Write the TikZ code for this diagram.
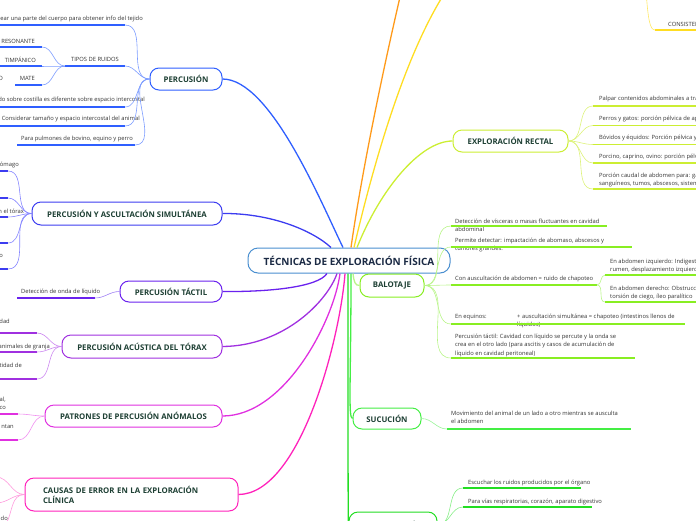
\documentclass[tikz,border=0pt]{standalone}
\usepackage{fontspec}
\setmainfont{Open Sans}
\definecolor{headtxt}{HTML}{1D3F33}
\definecolor{roottxt}{HTML}{1B2A44}
\definecolor{leaftxt}{HTML}{333333}
\definecolor{cRoot}{HTML}{4A8FD0}
\definecolor{cPerc}{HTML}{2F5FFF}
\definecolor{cPercL}{HTML}{7C9CFF}
\definecolor{cPas}{HTML}{3C3CF0}
\definecolor{cPasL}{HTML}{8484FF}
\definecolor{cTac}{HTML}{6A22EE}
\definecolor{cTacL}{HTML}{A080F4}
\definecolor{cAcu}{HTML}{A030E0}
\definecolor{cAcuL}{HTML}{CC88F0}
\definecolor{cPat}{HTML}{E030E0}
\definecolor{cPatL}{HTML}{F090F0}
\definecolor{cCau}{HTML}{FF22BB}
\definecolor{cCauL}{HTML}{FF99DD}
\definecolor{cOra}{HTML}{FF9A1A}
\definecolor{cYel}{HTML}{FFDD22}
\definecolor{cYelL}{HTML}{FFE866}
\definecolor{cRec}{HTML}{CCEE33}
\definecolor{cRecL}{HTML}{DDF27A}
\definecolor{cBal}{HTML}{88EE22}
\definecolor{cBalL}{HTML}{B8F488}
\definecolor{cSuc}{HTML}{44EE44}
\definecolor{cSucL}{HTML}{99F499}
\definecolor{cAus}{HTML}{22DD22}
\definecolor{cAusL}{HTML}{88EE88}
\tikzset{
  head/.style={draw, fill=white, rounded corners=9pt, line width=1pt,
    font=\bfseries\fontsize{7.8}{10}\selectfont, text=headtxt, inner sep=1pt, align=center},
  leaf/.style={font=\fontsize{5.8}{8.5}\selectfont, text=leaftxt, inner sep=0pt},
  ul/.style={line width=1.8pt},
  br/.style={line width=1.3pt},
  lk/.style={line width=0.6pt},
}
\begin{document}
\begin{tikzpicture}[x=1pt,y=-1pt]
\useasboundingbox (0,0) rectangle (696,520);
\clip (0,0) rectangle (696,520);

% ---------- main nodes
\node[head, draw=cRoot, rounded corners=10pt, minimum width=202pt, minimum height=25pt,
  font=\bfseries\fontsize{10}{12}\selectfont, text=roottxt] (root) at (349,260.5) {TÉCNICAS DE EXPLORACIÓN FÍSICA};
\node[head, draw=cPerc, minimum width=72pt, minimum height=22pt] (perc) at (186,79) {PERCUSIÓN};
\node[head, draw=cPas, minimum width=190pt, minimum height=23pt] (pas) at (127,213.5) {PERCUSIÓN Y ASCULTACIÓN SIMULTÁNEA};
\node[head, draw=cTac, minimum width=102pt, minimum height=21pt] (tac) at (171,291.5) {PERCUSIÓN TÁCTIL};
\node[head, draw=cAcu, minimum width=160pt, minimum height=23pt] (acu) at (142,346.5) {PERCUSIÓN ACÚSTICA DEL TÓRAX};
\node[head, draw=cPat, minimum width=177pt, minimum height=22pt] (pat) at (133.5,416) {PATRONES DE PERCUSIÓN ANÓMALOS};
\node[head, draw=cCau, minimum height=33pt, text width=177pt, inner xsep=18pt, align=left] (cau) at (131.5,494.5) {CAUSAS DE ERROR EN LA EXPLORACIÓN\\CLÍNICA};
\node[head, draw=cRec, minimum width=115pt, minimum height=22pt] (rec) at (510.5,141) {EXPLORACIÓN RECTAL};
\node[head, draw=cBal, minimum width=64pt, minimum height=23pt] (bal) at (392,285.5) {BALOTAJE};
\node[head, draw=cSuc, minimum width=68pt, minimum height=21pt] (suc) at (387,418.5) {SUCUCIÓN};
\node[head, draw=cAus, minimum width=88pt, minimum height=26pt] (aus) at (393,525) {AUSCULTACIÓN};

% ---------- free ends of the branches leaving the picture
\coordinate (oraEnd) at (404,-20);
\coordinate (yelEnd) at (450,-15);

% ---------- main branches
\draw[br,cPerc] (perc.east) .. controls (270,79) and (320,200) .. ([xshift=-6pt]root.north);
\draw[br,cPas] (pas.east) .. controls (270,213) and (312,230) .. ([xshift=-18pt]root.north);
\draw[br,cTac] (tac.east) .. controls (270,292) and (318,287) .. ([xshift=-22pt]root.south);
\draw[br,cAcu] (acu.east) .. controls (285,346) and (328,300) .. ([xshift=-12pt]root.south);
\draw[br,cPat] (pat.east) .. controls (285,416) and (334,320) .. ([xshift=-9pt]root.south);
\draw[br,cCau] (cau.east) .. controls (300,494) and (340,340) .. ([xshift=-4pt]root.south);
\draw[br,cAus] ([xshift=-1pt]root.south) .. controls (348,420) and (348,525) .. (aus.west);
\draw[br,cSuc] ([xshift=2pt]root.south) .. controls (351,380) and (348,418.5) .. (suc.west);
\draw[br,cBalL] ([xshift=4pt]root.south) .. controls (354,282) and (355,285.5) .. (bal.west);
\draw[br,cOra] ([xshift=2pt]root.north) .. controls (362,170) and (385,60) .. (oraEnd);
\draw[br,cYel] ([xshift=5pt]root.north) .. controls (372,170) and (405,50) .. (yelEnd);
\draw[br,cRec] ([xshift=8pt]root.north) .. controls (380,190) and (420,141) .. (rec.west);

% ---------- PERCUSIÓN leaves
\node[leaf, anchor=east] (p1) at (143,19) {Golpear una parte del cuerpo para obtener info del tejido};
\draw[ul,cPerc] (-5,25) -- (125,25) coordinate (p1e);
\node[leaf] (tip) at (95,59) {TIPOS DE RUIDOS};
\draw[ul,cPerc] (65,66) coordinate (tipw) -- (125,66) coordinate (tipe);
\node[leaf, anchor=east] (t1) at (35,41) {RESONANTE};
\draw[ul,cPerc] (-5,47) -- (42,47) coordinate (t1e);
\node[leaf, anchor=east] (t2) at (36,60) {TIMPÁNICO};
\draw[ul,cPerc] (-5,66) -- (42,66) coordinate (t2e);
\node[leaf, anchor=east] (t3) at (35,78) {MATE};
\draw[ul,cPerc] (15,85) -- (42,85) coordinate (t3e);
\node[leaf, anchor=east] (t4) at (3,78) {O};
\node[leaf, anchor=east] (p2) at (145,100) {Sonido sobre costilla es diferente sobre espacio intercostal};
\draw[ul,cPerc] (-5,107) -- (125,107) coordinate (p2e);
\node[leaf, anchor=east] (p3) at (140,119) {Considerar tamaño y espacio intercostal del animal};
\draw[ul,cPerc] (-5,126) -- (125,126) coordinate (p3e);
\node[leaf, anchor=west] (p4) at (21,139) {Para pulmones de bovino, equino y perro};
\draw[ul,cPerc] (17,145) -- (135,145) coordinate (p4e);
\foreach \c in {p1e,tipe,p2e,p3e,p4e}
  \draw[lk,cPercL] (\c) to[out=0,in=180] (perc.west);
\foreach \c in {t1e,t2e,t3e}
  \draw[lk,cPercL] (\c) to[out=0,in=180] (tipw);

% ---------- PERCUSIÓN Y ASCULTACIÓN leaves
\node[leaf, anchor=east] (s1) at (19,165) {estómago};
\draw[ul,cPas] (-5,171) -- (8,171) coordinate (s1e);
\draw[ul,cPas] (-5,198) -- (8,198) coordinate (s2e);
\node[leaf, anchor=east] (s3) at (24,211) {en el tórax};
\draw[ul,cPas] (-5,217) -- (8,217) coordinate (s3e);
\draw[ul,cPas] (-5,243) -- (8,243) coordinate (s4e);
\node[leaf, anchor=east] (s5) at (3,256) {o};
\draw[ul,cPas] (-5,269) -- (8,269) coordinate (s5e);
\foreach \c in {s1e,s2e,s3e,s4e,s5e}
  \draw[lk,cPasL] (\c) to[out=0,in=180] (pas.west);

% ---------- PERCUSIÓN TÁCTIL leaf
\node[leaf, anchor=west] (c1) at (21,292) {Detección de onda de líquido};
\draw[ul,cTac] (17,298) -- (95,298) coordinate (c1e);
\draw[lk,cTacL] (c1e) to[out=0,in=180] (tac.west);

% ---------- PERCUSIÓN ACÚSTICA leaves
\node[leaf, anchor=east] (a1) at (10,321) {dad};
\draw[ul,cAcu] (-5,333) -- (37,333) coordinate (a1e);
\node[leaf, anchor=east] (a2) at (50,347) {animales de granja};
\draw[ul,cAcu] (-5,352) -- (37,352) coordinate (a2e);
\node[leaf, anchor=east] (a3) at (22,365) {cantidad de};
\draw[ul,cAcu] (-5,379) -- (37,379) coordinate (a3e);
\foreach \c in {a1e,a2e,a3e}
  \draw[lk,cAcuL] (\c) to[out=0,in=180] (acu.west);

% ---------- PATRONES leaves
\node[leaf, anchor=east, align=right] (q1) at (6,403.5) {al,\\co};
\draw[ul,cPat] (-5,414) -- (18,414) coordinate (q1e);
\node[leaf, anchor=east] (q2) at (14,427) {ntan};
\draw[ul,cPat] (-5,440) -- (18,440) coordinate (q2e);
\foreach \c in {q1e,q2e}
  \draw[lk,cPatL] (\c) to[out=0,in=180] (pat.west);

% ---------- CAUSAS leaves
\coordinate (k1) at (-4,477);
\coordinate (k2) at (-4,503);
\coordinate (k3) at (6,524);
\node[leaf, anchor=east] (k3t) at (8,518) {do};
\draw[lk,cCauL] (cau.west) to[out=180,in=0] (k1);
\draw[lk,cCauL] (cau.west) to[out=180,in=0] (k2);
\draw[lk,cCauL] (cau.west) to[out=180,in=60] (k3);

% ---------- top right leaf (yellow branch)
\node[leaf, anchor=west] (y1) at (668,24) {CONSISTENCIA};
\draw[ul,cYel] (655,30) coordinate (y1w) -- (705,30);
\coordinate (y1top) at (646,-10);
\draw[lk,cYelL] (y1top) .. controls (648,20) and (650,30) .. (y1w);

% ---------- EXPLORACIÓN RECTAL leaves
\node[leaf, anchor=west] at (599,99) {Palpar contenidos abdominales a través del recto};
\draw[ul,cRec] (593,106) coordinate (r1w) -- (705,106);
\node[leaf, anchor=west] at (599,119) {Perros y gatos: porción pélvica de aparato reproductor};
\draw[ul,cRec] (593,125.5) coordinate (r2w) -- (705,125.5);
\node[leaf, anchor=west] at (599,138) {Bóvidos y équidos: Porción pélvica y abdominal};
\draw[ul,cRec] (593,144.5) coordinate (r3w) -- (705,144.5);
\node[leaf, anchor=west] at (599,157) {Porcino, caprino, ovino: porción pélvica};
\draw[ul,cRec] (593,163) coordinate (r4w) -- (705,163);
\node[leaf, anchor=north west, align=left] at (599,172.5) {Porción caudal de abdomen para: ganglios, vasos\\sanguíneos, tumos, abscesos, sistema urinario};
\draw[ul,cRec] (593,189) coordinate (r5w) -- (705,189);
\foreach \c in {r1w,r2w,r3w,r4w,r5w}
  \draw[lk,cRecL] (rec.east) to[out=0,in=180] (\c);

% ---------- BALOTAJE leaves
\node[leaf, anchor=north west, align=left] at (455,218.5) {Detección de vísceras o masas fluctuantes en cavidad\\abdominal};
\draw[ul,cBal] (451,226) coordinate (b1w) -- (607,226);
\node[leaf, anchor=north west, align=left] at (455,237.5) {Permite detectar: impactación de abomaso, abscesos y\\tumores grandes.};
\draw[ul,cBal] (451,247) coordinate (b2w) -- (632,247);
\node[leaf, anchor=west] at (455,279) {Con auscultación de abdomen = ruido de chapoteo};
\draw[ul,cBal] (451,285) coordinate (b3w) -- (597,285) coordinate (b3e);
\node[leaf, anchor=north west, align=left] at (610,258.5) {En abdomen izquierdo: Indigestión vagal, timpanismo del\\rumen, desplazamiento izquierdo del abomaso};
\draw[ul,cBal] (605,275) coordinate (b31w) -- (705,275);
\node[leaf, anchor=north west, align=left] at (610,285.5) {En abdomen derecho: Obstrucción intestinal,\\torsión de ciego, íleo paralítico};
\draw[ul,cBal] (605,302) coordinate (b32w) -- (705,302);
\draw[lk,cBalL] (b3e) to[out=0,in=180] (b31w);
\draw[lk,cBalL] (b3e) to[out=0,in=180] (b32w);
\node[leaf, anchor=west] at (455,317) {En equinos:};
\node[leaf, anchor=north west, align=left] at (517,313.5) {+ auscultación simultánea = chapoteo (intestinos llenos de\\líquidos)};
\draw[ul,cBal] (451,324) coordinate (b4w) -- (685,324);
\node[leaf, anchor=north west, align=left] at (455,333.5) {Percusión táctil: Cavidad con líquido se percute y la onda se\\crea en el otro lado (para ascitis y casos de acumulación de\\líquido en cavidad peritoneal)};
\draw[ul,cBal] (451,358) coordinate (b5w) -- (635,358);
\foreach \c in {b1w,b2w,b3w,b4w,b5w}
  \draw[lk,cBalL] (bal.east) to[out=0,in=180] (\c);

% ---------- SUCUCIÓN leaf
\node[leaf, anchor=north west, align=left] at (451,410.5) {Movimiento del animal de un lado a otro mientras se ausculta\\el abdomen};
\draw[ul,cSuc] (447,429) coordinate (u1w) -- (631,429);
\draw[lk,cSucL] (suc.east) to[out=0,in=180] (u1w);

% ---------- AUSCULTACIÓN leaves
\node[leaf, anchor=west] at (468,483) {Escuchar los ruidos producidos por el órgano};
\draw[ul,cAus] (463,488) coordinate (v1w) -- (581,488);
\node[leaf, anchor=west] at (468,502) {Para vías respiratorias, corazón, aparato digestivo};
\draw[ul,cAus] (463,507) coordinate (v2w) -- (592,507);
\foreach \c in {v1w,v2w}
  \draw[lk,cAusL] (aus.east) to[out=0,in=180] (\c);
\end{tikzpicture}
\end{document}
